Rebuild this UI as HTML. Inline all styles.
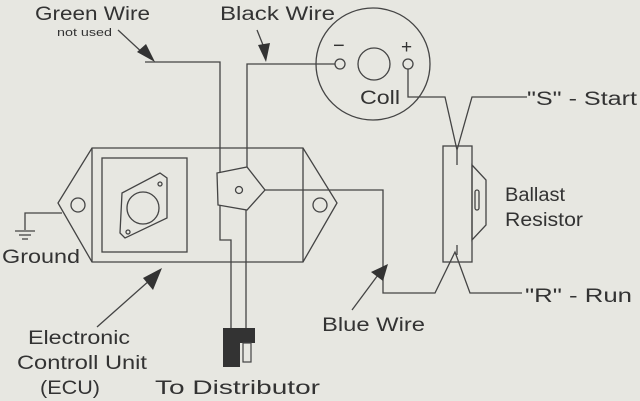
<!DOCTYPE html>
<html><head><style>
html,body{margin:0;padding:0;background:#e7e7e1;}
svg{display:block;}
text{font-family:"Liberation Sans",sans-serif;fill:#333;}
</style></head><body>
<svg width="640" height="401" viewBox="0 0 640 401" xmlns="http://www.w3.org/2000/svg">
<rect width="640" height="401" fill="#e7e7e1"/>
<g fill="none" stroke="#444" stroke-width="1.3">
<polygon points="92,148 303,148 337,203 303,262 92,262 58,203"/>
<line x1="92" y1="148" x2="92" y2="262"/>
<line x1="303" y1="148" x2="303" y2="262"/>
<circle cx="78" cy="205" r="7"/>
<circle cx="320" cy="205" r="7"/>
<rect x="102" y="158" width="85" height="94"/>
<polygon points="122,193 160,173 167,178 167,218 125,238 120,233"/>
<circle cx="143" cy="208" r="16"/>
<circle cx="160" cy="184" r="2"/>
<circle cx="128" cy="232" r="2"/>
<polygon points="217,173 247,167 265,190 247,210 218,205"/>
<circle cx="239" cy="190" r="3.5"/>
<polyline points="145,62 220,62 220,173"/>
<polyline points="220,205 220,240 231,240 231,328"/>
<line x1="246" y1="210" x2="246" y2="328"/>
<polyline points="335,64 247,64 247,167"/>
<polyline points="265,190 383,190 383,293 435,293 455,252 470,293 522,293"/>
<ellipse cx="373" cy="64" rx="57" ry="56"/>
<circle cx="340" cy="64" r="5"/>
<circle cx="374" cy="64" r="16"/>
<circle cx="408" cy="64" r="5"/>
<polyline points="408,69 408,97 445,97 457,150 472,97 527,97"/>
<line x1="457" y1="150" x2="457" y2="165"/>
<rect x="443" y="146" width="29" height="116"/>
<polygon points="472,165 486,180 486,225 472,240"/>
<rect x="475" y="190" width="4" height="20" rx="2"/>
<line x1="457" y1="245" x2="457" y2="255"/>
<polyline points="62,213 25,213 25,230"/>
<line x1="15" y1="231" x2="35" y2="231"/>
<line x1="19" y1="235" x2="31" y2="235"/>
<line x1="22" y1="239" x2="28" y2="239"/>
<line x1="118" y1="30" x2="145" y2="55"/>
<line x1="257" y1="30" x2="265" y2="50"/>
<line x1="97" y1="327" x2="150" y2="280"/>
<line x1="352" y1="310" x2="378" y2="275"/>
</g>
<g fill="#333">
<polygon points="155,62 137,52 146,44"/>
<polygon points="266,62 258,45 270,43"/>
<polygon points="162,268 143,278 153,290"/>
<polygon points="388,264 371,272 383,281"/>
<rect x="223" y="328" width="32" height="15"/>
<rect x="223" y="343" width="17" height="24"/>
</g>
<rect x="243" y="343" width="8" height="19" fill="none" stroke="#444" stroke-width="1.2"/>
<g font-size="19" lengthAdjust="spacingAndGlyphs">
<text x="35" y="20" textLength="115" lengthAdjust="spacingAndGlyphs">Green Wire</text>
<text x="220" y="20" textLength="115" lengthAdjust="spacingAndGlyphs">Black Wire</text>
<text x="360" y="104" textLength="40" lengthAdjust="spacingAndGlyphs">Coll</text>
<text x="527" y="105" textLength="110" lengthAdjust="spacingAndGlyphs">"S" - Start</text>
<text x="505" y="201" textLength="60" lengthAdjust="spacingAndGlyphs">Ballast</text>
<text x="505" y="226" textLength="78" lengthAdjust="spacingAndGlyphs">Resistor</text>
<text x="525" y="302" textLength="107" lengthAdjust="spacingAndGlyphs">"R" - Run</text>
<text x="322" y="331" textLength="103" lengthAdjust="spacingAndGlyphs">Blue Wire</text>
<text x="2" y="263" textLength="78" lengthAdjust="spacingAndGlyphs">Ground</text>
<text x="28" y="344" textLength="102" lengthAdjust="spacingAndGlyphs">Electronic</text>
<text x="17" y="369" textLength="130" lengthAdjust="spacingAndGlyphs">Controll Unit</text>
<text x="40" y="394" textLength="60" lengthAdjust="spacingAndGlyphs">(ECU)</text>
<text x="155" y="394" textLength="165" lengthAdjust="spacingAndGlyphs">To Distributor</text>
</g>
<text x="57" y="36" font-size="11" textLength="55" lengthAdjust="spacingAndGlyphs">not used</text>
<text x="333" y="52" font-size="20">−</text>
<text x="401" y="53" font-size="19">+</text>
</svg>
</body></html>
